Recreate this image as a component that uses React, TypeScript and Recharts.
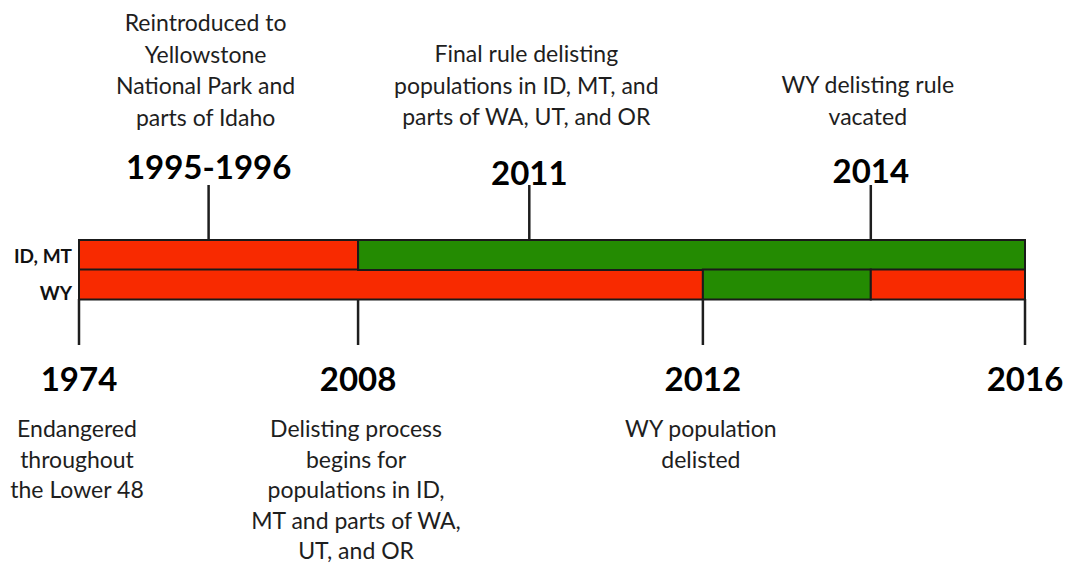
import { ComposedChart, Bar, Line, Cell, XAxis, YAxis } from 'recharts';

// milestones along the timeline; position = % of the timeline width (spacing is not to scale in years)
const milestones = ['1974', '1995-1996', '2008', '2011', '2012', '2014', '2016'];
const milestonePos = [0, 13.7, 29.5, 47.6, 65.95, 83.7, 100];
const milestoneNotes = [
  ['Endangered', 'throughout', 'the Lower 48'],
  ['Reintroduced to', 'Yellowstone', 'National Park and', 'parts of Idaho'],
  ['Delisting process', 'begins for', 'populations in ID,', 'MT and parts of WA,', 'UT, and OR'],
  ['Final rule delisting', 'populations in ID, MT, and', 'parts of WA, UT, and OR'],
  ['WY population', 'delisted'],
  ['WY delisting rule', 'vacated'],
  [],
];
const topMilestones = ['1995-1996', '2011', '2014'];
const bottomMilestones = ['1974', '2008', '2012', '2016'];

const rows = ['ID, MT', 'WY'];
const idmtBreaks = ['1974', '2008', '2016'];
const idmtStatus = ['listed', 'delisted'];
const wyBreaks = ['1974', '2012', '2014', '2016'];
const wyStatus = ['listed', 'delisted', 'listed'];

const statusColors: Record<string, string> = { listed: '#f82a00', delisted: '#248b02' };
const FONT = 'Lato, "Open Sans", sans-serif';
const NOTE_SIZE = 23;
const YEAR_SIZE = 33;

const posOf = (m: string) => milestonePos[milestones.indexOf(m)];

const buildRow = (name: string, breaks: string[], status: string[]) => {
  const row: any = { row: name, start: 0 };
  for (let i = 0; i < 3; i++) {
    row[`s${i}`] = i < status.length ? posOf(breaks[i + 1]) - posOf(breaks[i]) : 0;
    row[`c${i}`] = statusColors[status[i] ?? status[status.length - 1]];
  }
  return row;
};

const data = [
  buildRow(rows[0], idmtBreaks, idmtStatus),
  buildRow(rows[1], wyBreaks, wyStatus),
];

const labelFor = (value: number, list: string[]) =>
  list.find((m) => Math.abs(posOf(m) - value) < 0.01) ?? '';

const topYearY: Record<string, number> = { '1995-1996': 166, '2011': 172, '2014': 170 };
const topNoteStart: Record<string, number> = { '1995-1996': 22, '2011': 53, '2014': 84 };

const TopTick = ({ x, payload }: any) => {
  const m = labelFor(payload.value, topMilestones);
  const notes = milestoneNotes[milestones.indexOf(m)] || [];
  return (
    <g>
      {notes.map((line, i) => (
        <text key={i} x={x - 3} y={topNoteStart[m] + i * 31.5} textAnchor="middle" dominantBaseline="central"
          fontFamily={FONT} fontSize={NOTE_SIZE} fill="#1e1e1e">
          {line}
        </text>
      ))}
      <text x={x} y={topYearY[m]} textAnchor="middle" dominantBaseline="central"
        fontFamily={FONT} fontSize={YEAR_SIZE} fontWeight="bold" fill="#000">
        {m}
      </text>
    </g>
  );
};

const BottomTick = ({ x, payload }: any) => {
  const m = labelFor(payload.value, bottomMilestones);
  const notes = milestoneNotes[milestones.indexOf(m)] || [];
  return (
    <g>
      <text x={x} y={378} textAnchor="middle" dominantBaseline="central"
        fontFamily={FONT} fontSize={YEAR_SIZE} fontWeight="bold" fill="#000">
        {m}
      </text>
      {notes.map((line, i) => (
        <text key={i} x={x - 2} y={428 + i * 30.6} textAnchor="middle" dominantBaseline="central"
          fontFamily={FONT} fontSize={NOTE_SIZE} fill="#1e1e1e">
          {line}
        </text>
      ))}
    </g>
  );
};

const RowTick = ({ y, payload }: any) => (
  <text x={72} y={y + (payload.value === 'WY' ? 8 : 1)} textAnchor="end" dominantBaseline="central"
    fontFamily={FONT} fontSize={19} fontWeight="bold" fill="#111">
    {payload.value}
  </text>
);

export default function App() {
  return (
    <div style={{ position: 'absolute', left: 0, top: 0, width: 1067, height: 563, background: '#fff' }}>
      <ComposedChart
        width={1067}
        height={563}
        data={data}
        layout="vertical"
        barCategoryGap={0}
        margin={{ top: 0, right: 42, bottom: 0, left: 0 }}
      >
        <XAxis
          xAxisId="top"
          orientation="top"
          type="number"
          domain={[0, 100]}
          ticks={topMilestones.map(posOf)}
          interval={0}
          height={240}
          axisLine={false}
          tickSize={55}
          tickLine={{ stroke: '#1e1e1e', strokeWidth: 2.5 }}
          tick={<TopTick />}
        />
        <XAxis
          xAxisId="bottom"
          orientation="bottom"
          type="number"
          domain={[0, 100]}
          ticks={bottomMilestones.map(posOf)}
          interval={0}
          height={264}
          axisLine={false}
          tickSize={46}
          tickLine={{ stroke: '#1e1e1e', strokeWidth: 2.5 }}
          tick={<BottomTick />}
        />
        <YAxis type="category" dataKey="row" width={79} axisLine={false} tickLine={false} tick={<RowTick />} />
        {[0, 1, 2].map((i) => (
          <Bar key={i} dataKey={`s${i}`} stackId="t" xAxisId="bottom" isAnimationActive={false}
            stroke="#1a1a1a" strokeWidth={2}>
            {data.map((d, j) => (
              <Cell key={j} fill={d[`c${i}`]} />
            ))}
          </Bar>
        ))}
        {/* invisible series so the top axis gets drawn */}
        <Line dataKey="start" xAxisId="top" stroke="none" dot={false} activeDot={false} isAnimationActive={false} />
      </ComposedChart>
    </div>
  );
}
